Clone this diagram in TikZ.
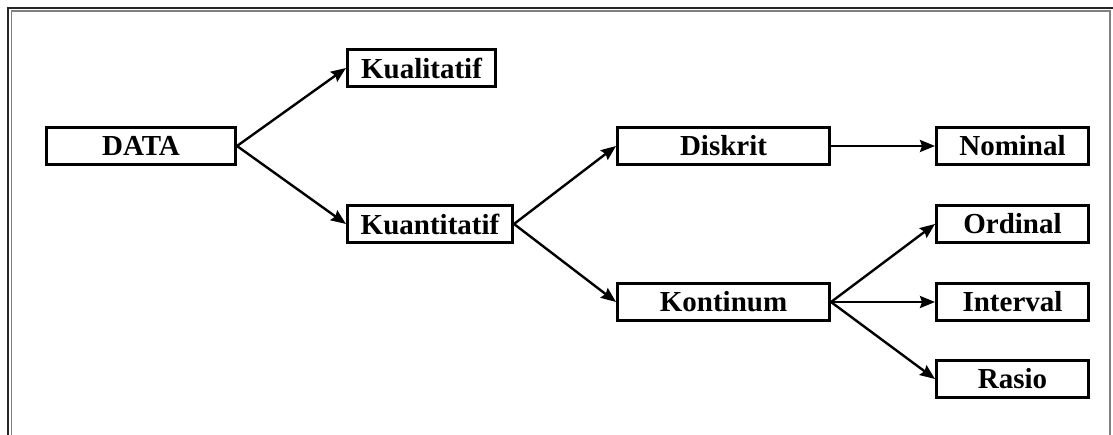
\documentclass[tikz,border=0pt]{standalone}
\usepackage{fontspec}
\setmainfont{Liberation Serif}
\usetikzlibrary{arrows.meta}

\begin{document}
\begin{tikzpicture}[x=1pt,y=-1pt,->,>={Stealth[length=15pt,width=12pt,inset=2pt]},line width=2.4pt]
  \tikzstyle{place}=[rectangle,draw=black,fill=white,line width=3pt,
    minimum height=37pt,inner sep=0pt,
    font=\fontsize{29}{34}\selectfont\bfseries]
  \tikzstyle{frame}=[-,line width=2pt,black!85]
  \tikzstyle{inner frame}=[-,line width=1.3pt,black!50]

  \useasboundingbox (0,0) rectangle (1113,435);

  % outer frame
  \draw[frame] (8,435) -- (8,8) -- (1113,8);
  \draw[inner frame] (11.5,435) -- (11.5,11) -- (1110,11) -- (1110,435);

  \node[place,minimum width=189pt] (data)        at (141,146)    {DATA};
  \node[place,minimum width=148pt] (kualitatif)  at (421.5,68)   {Kualitatif};
  \node[place,minimum width=165pt] (kuantitatif) at (430,224)    {Kuantitatif};
  \node[place,minimum width=212pt] (diskrit)     at (723.5,146)  {Diskrit};
  \node[place,minimum width=212pt] (kontinum)    at (723.5,302)  {Kontinum};
  \node[place,minimum width=152pt] (nominal)     at (1012.5,146) {Nominal};
  \node[place,minimum width=152pt] (ordinal)     at (1012.5,224) {Ordinal};
  \node[place,minimum width=152pt] (interval)    at (1012.5,302) {Interval};
  \node[place,minimum width=152pt] (rasio)       at (1012.5,379) {Rasio};

  \draw (data.east) -- (kualitatif.west);
  \draw (data.east) -- (kuantitatif.west);
  \draw (kuantitatif.east) -- (diskrit.west);
  \draw (kuantitatif.east) -- (kontinum.west);
  \draw (diskrit.east) -- (nominal.west);
  \draw (kontinum.east) -- (ordinal.west);
  \draw (kontinum.east) -- (interval.west);
  \draw (kontinum.east) -- (rasio.west);
\end{tikzpicture}
\end{document}
